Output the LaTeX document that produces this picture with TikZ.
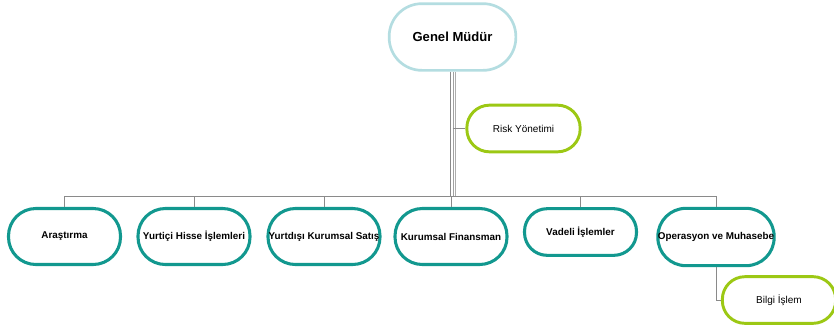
\documentclass[tikz,border=0pt]{standalone}
\usepackage{fontspec}
\setmainfont{Liberation Sans}
\definecolor{teal2}{HTML}{12988F}
\definecolor{lime2}{HTML}{9CC814}
\definecolor{pale}{HTML}{B4DDE1}
\definecolor{conn}{HTML}{8A8A8A}
\begin{document}
\begin{tikzpicture}[x=0.75pt,y=-0.75pt,
  unit/.style={draw=teal2,line width=2.3pt,fill=white,rectangle,rounded corners=20.5pt,
    minimum width=84pt,minimum height=42pt,inner sep=0pt,font=\bfseries\fontsize{7.4}{9}\selectfont},
  side/.style={draw=lime2,line width=2.2pt,fill=white,rectangle,rounded corners=17pt,
    minimum width=85pt,minimum height=35pt,inner sep=0pt,font=\fontsize{7.5}{9}\selectfont},
  top/.style={draw=pale,line width=2pt,fill=white,rectangle,rounded corners=24.5pt,
    minimum width=95pt,minimum height=50pt,inner sep=0pt,font=\bfseries\fontsize{9.8}{12}\selectfont},
  link/.style={draw=conn,line width=0.75pt}]
\useasboundingbox (0,0) rectangle (834,329);
\node[top] (gm) at (452.5,37) {Genel Müdür};
\node[side] (risk) at (523.5,128.5) {Risk Yönetimi};
\node[unit] (a1) at (64.5,236.5) {Araştırma};
\node[unit] (a2) at (194,236.5) {Yurtiçi Hisse İşlemleri};
\node[unit] (a3) at (324,236.5) {Yurtdışı Kurumsal Satış};
\node[unit] (a4) at (451,236.5) {Kurumsal Finansman};
\node[unit,minimum height=35pt,rounded corners=17pt] (a5) at (580.5,232) {Vadeli İşlemler};
\node[unit,minimum height=43pt,rounded corners=21pt] (a6) at (716,237) {Operasyon ve Muhasebe};
\node[side] (bilgi) at (779,300) {Bilgi İşlem};
\coordinate (bus) at (0,196);
\coordinate (tb) at (gm.south |- bus);
\coordinate (lft) at (a1.north |- bus);
\coordinate (rgt) at (a6.north |- bus);
% trunk (three strands)
\draw[link] ([xshift=-1.2pt]gm.south) -- ([xshift=-1.2pt]tb);
\draw[link,draw=conn!80] ([xshift=0.5pt]gm.south) -- ([xshift=0.5pt]tb);
\draw[link,draw=conn!70] ([xshift=2.3pt]gm.south) -- ([xshift=2.3pt]tb);
\draw[link] (gm.south |- risk.west) -- (risk.west);
\draw[link] (lft) -- (rgt);
\foreach \n in {a1,a2,a3,a4,a5,a6} \draw[link] (\n.north |- bus) -- (\n.north);
\draw[link] (a6.south) |- (bilgi.west);
\end{tikzpicture}
\end{document}
